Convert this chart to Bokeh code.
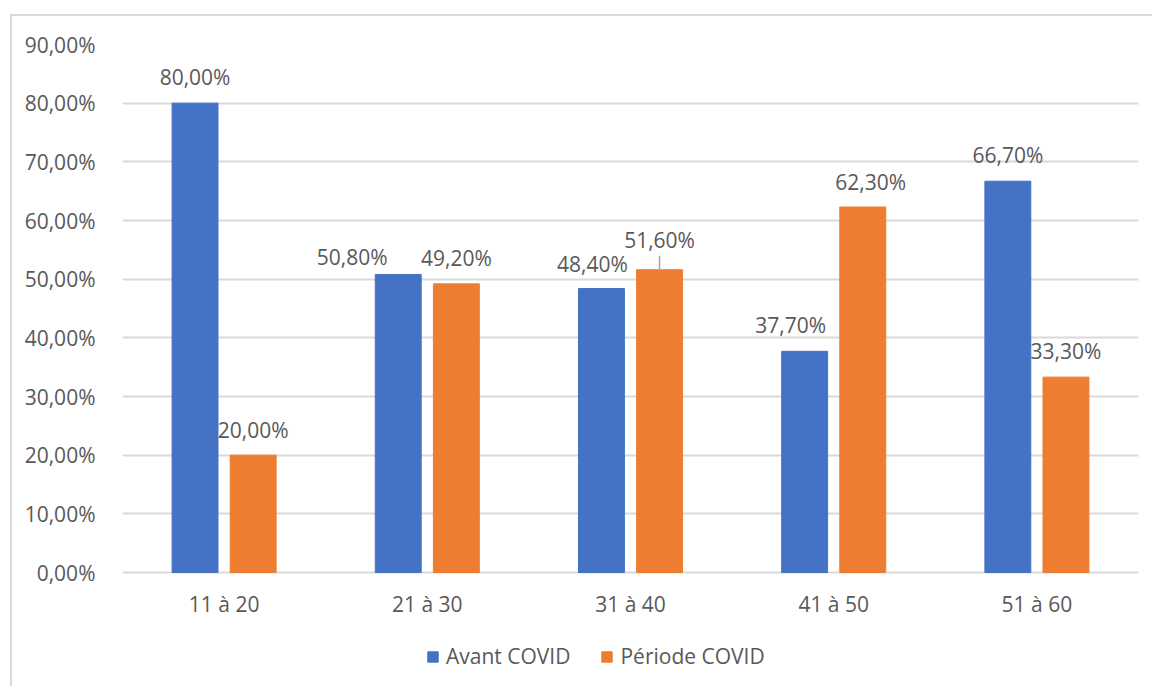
import numpy as np
from bokeh.plotting import figure
from bokeh.models import (ColumnDataSource, Range1d, FixedTicker, Legend, LegendItem)
from bokeh.core.properties import value
from bokeh.embed import file_html
from bokeh.resources import INLINE

# ---- data ----
categories = ["11 à 20", "21 à 30", "31 à 40", "41 à 50", "51 à 60"]
avant_covid = [80.0, 50.8, 48.4, 37.7, 66.7]
periode_covid = [20.0, 49.2, 51.6, 62.3, 33.3]
y_ticks = [0, 10, 20, 30, 40, 50, 60, 70, 80, 90]
y_tick_labels = ["0,00%", "10,00%", "20,00%", "30,00%", "40,00%", "50,00%",
                 "60,00%", "70,00%", "80,00%", "90,00%"]

# label nudges (pixels) to mimic the reference placement
avant_dx = [0, -46, -9, -14, 0]
avant_dy = [-26, -17, -25, -26, -26]
periode_dx = [0, 0, 0, 8, 0]
periode_dy = [-25, -26, -30, -25, -26]

FONT = "Open Sans"
FS = "21px"
TXT = "#595959"
GRID = "#d9d9d9"
BLUE = "#4472C4"
ORANGE = "#ED7D31"

def fmt(v):
    return f"{v:.2f}".replace(".", ",") + "%"

idx = np.arange(len(categories))
off = 0.143
bw = 0.226

src_a = ColumnDataSource(dict(x=idx - off, top=avant_covid,
                              lbl=[fmt(v) for v in avant_covid],
                              dx=avant_dx, dy=avant_dy))
src_p = ColumnDataSource(dict(x=idx + off, top=periode_covid,
                              lbl=[fmt(v) for v in periode_covid],
                              dx=periode_dx, dy=periode_dy))
src_c = ColumnDataSource(dict(x=idx, y=np.zeros(len(categories)), lbl=categories))

# frame extends to the bottom of the canvas so the legend can sit inside it;
# the value axis keeps 0..90 % over the upper part
PX_PER_UNIT = (572 - 44) / 90.0
y_bottom = -(688 - 572) / PX_PER_UNIT

p = figure(width=1142, height=672, output_backend="svg", toolbar_location=None,
           x_range=Range1d(-0.5, len(categories) - 0.5),
           y_range=Range1d(y_bottom, 90),
           min_border_left=110, min_border_right=16, min_border_top=28,
           min_border_bottom=0)
p.styles = {"margin-left": "10px", "margin-top": "14px",
            "border-top": "2px solid #d9d9d9", "border-left": "2px solid #d9d9d9"}
p.outline_line_color = None
p.background_fill_color = "white"
p.border_fill_color = "white"

ra = p.vbar(x="x", top="top", width=bw, source=src_a, color=BLUE)
rp = p.vbar(x="x", top="top", width=bw, source=src_p, color=ORANGE)

for s in (src_a, src_p):
    p.text(x="x", y="top", text="lbl", source=s, x_offset="dx", y_offset="dy",
           text_align="center", text_baseline="middle",
           text_font=value(FONT), text_font_size=FS, text_color=TXT)

# category labels under the baseline
p.text(x="x", y="y", text="lbl", source=src_c, y_offset=31,
       text_align="center", text_baseline="middle",
       text_font=value(FONT), text_font_size=FS, text_color=TXT)

# leader line for 51,60%
i = 2
p.segment(x0=[idx[i] + off], x1=[idx[i] + off], y0=[periode_covid[i]],
          y1=[periode_covid[i] + 2.4], line_color="#a6a6a6", line_width=1.5)

# axes
p.xaxis.visible = False
p.yaxis.ticker = FixedTicker(ticks=y_ticks)
p.yaxis.major_label_overrides = {t: l for t, l in zip(y_ticks, y_tick_labels)}
p.yaxis.major_tick_line_color = None
p.yaxis.minor_tick_line_color = None
p.yaxis.major_label_text_font = FONT
p.yaxis.major_label_text_font_size = FS
p.yaxis.major_label_text_color = TXT
p.yaxis.axis_line_color = None
p.yaxis.major_label_standoff = 21

p.xgrid.grid_line_color = None
p.ygrid.grid_line_color = GRID
p.ygrid.grid_line_width = 2
p.ygrid.ticker = FixedTicker(ticks=y_ticks)

legend = Legend(items=[LegendItem(label="Avant COVID", renderers=[ra]),
                       LegendItem(label="Période COVID", renderers=[rp])],
                orientation="horizontal", location=(304, 18),
                glyph_width=13, glyph_height=13, label_standoff=7, spacing=30,
                padding=0, margin=0, border_line_color=None,
                background_fill_alpha=0,
                label_text_font=FONT, label_text_font_size=FS,
                label_text_color=TXT)
p.add_layout(legend, "center")

open("out.html", "w").write(file_html(p, INLINE))
